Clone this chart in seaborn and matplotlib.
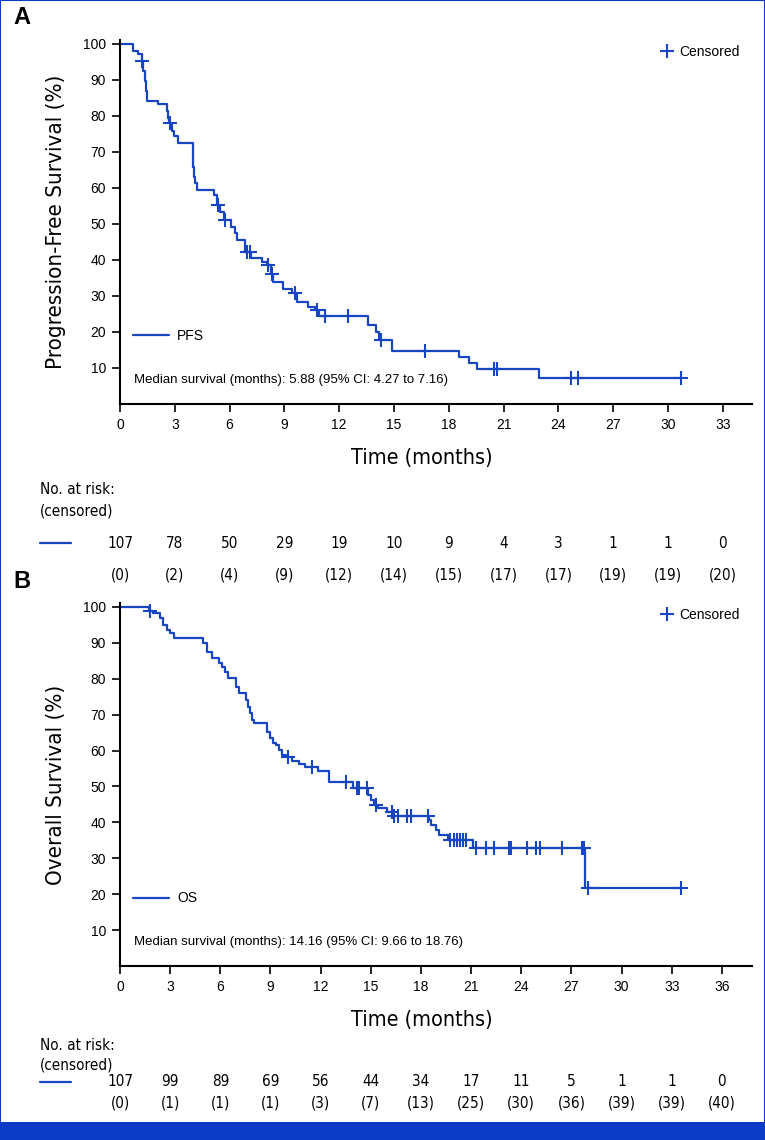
import numpy as np
import pandas as pd
import matplotlib
matplotlib.use("Agg")
import matplotlib.pyplot as plt
import seaborn as sns
from matplotlib.lines import Line2D
from matplotlib.patches import Rectangle
from matplotlib.transforms import blended_transform_factory
from matplotlib import font_manager

# ---------------- data ----------------
pfs_times = [0, 0.73, 1.0, 1.2, 1.28, 1.35, 1.42, 1.5, 2.06, 2.55, 2.65, 2.7, 2.85, 2.95, 3.19,
             3.98, 4.02, 4.06, 4.1, 4.2, 5.15, 5.3, 5.5, 5.7, 6.07, 6.3, 6.4, 6.84, 7.15, 7.75,
             8.05, 8.25, 8.4, 8.94, 9.4, 9.7, 10.3, 10.67, 10.9, 13.6, 14.0, 14.2, 14.9,
             18.55, 19.1, 19.56, 22.93]
pfs_surv = [100, 98.1, 97.2, 95.3, 92.5, 89.7, 86.9, 84.1, 83.2, 81.3, 79.4, 78.0, 75.7, 74.3, 72.5,
            68.7, 65.9, 63.1, 61.3, 59.5, 58.1, 55.4, 53.3, 51.2, 49.3, 47.4, 45.6, 42.3, 40.5, 39.5,
            38.6, 36.1, 34.0, 31.9, 30.7, 28.4, 27.0, 26.1, 24.4, 21.9, 20.1, 17.8, 14.8,
            13.1, 11.5, 9.7, 7.1]
pfs_censor_times = [1.22, 2.72, 5.38, 5.75, 6.93, 7.12, 8.12, 8.30, 9.6, 10.8, 11.2, 12.5,
                    14.3, 16.7, 20.5, 20.65, 24.68, 25.05, 30.74]
pfs_ticks = [0, 3, 6, 9, 12, 15, 18, 21, 24, 27, 30, 33]
pfs_at_risk = [107, 78, 50, 29, 19, 10, 9, 4, 3, 1, 1, 0]
pfs_censored = [0, 2, 4, 9, 12, 14, 15, 17, 17, 19, 19, 20]

os_times = [0, 1.75, 2.0, 2.39, 2.59, 2.83, 2.99, 3.25, 4.98, 5.18, 5.48, 5.92, 6.1, 6.28, 6.44,
            6.91, 7.13, 7.51, 7.65, 7.8, 7.91, 8.0, 8.77, 9.0, 9.15, 9.32, 9.5, 9.7, 9.9,
            10.26, 10.72, 11.06, 11.86, 12.51, 13.95, 14.85, 15.04, 15.2, 15.44, 15.94, 16.3,
            18.5, 18.6, 18.9, 19.1, 19.6, 21.12, 27.83]
os_surv = [100, 99.0, 98.2, 96.8, 95.0, 93.6, 92.7, 91.3, 89.9, 87.5, 85.7, 84.3, 83.4, 82.0, 80.2,
           77.8, 76.1, 74.1, 72.2, 70.4, 68.5, 67.6, 65.3, 63.4, 62.0, 61.6, 60.2, 58.8, 58.1,
           57.2, 56.2, 55.3, 54.4, 51.3, 49.5, 47.6, 46.2, 44.8, 43.9, 42.9, 41.9,
           40.7, 39.3, 37.9, 36.5, 35.1, 32.8, 21.8]
os_censor_times = [1.79, 10.02, 11.46, 13.49, 14.19, 14.3, 14.78, 15.3, 16.24, 16.38, 16.64,
                   17.14, 17.38, 18.43, 19.73, 19.96, 20.16, 20.32, 20.52, 20.72, 21.28, 21.88,
                   22.37, 23.25, 23.41, 24.37, 24.87, 25.1, 26.46, 27.66, 27.75, 28.0, 33.53]
os_ticks = [0, 3, 6, 9, 12, 15, 18, 21, 24, 27, 30, 33, 36]
os_at_risk = [107, 99, 89, 69, 56, 44, 34, 17, 11, 5, 1, 1, 0]
os_censored = [0, 1, 1, 1, 3, 7, 13, 25, 30, 36, 39, 39, 40]

y_ticks = [10, 20, 30, 40, 50, 60, 70, 80, 90, 100]

# ---------------- style ----------------
COLOR = "#1846c2"
FRAME = "#0b3bc5"
sns.set_theme(style="ticks")
plt.rcParams["font.family"] = ["Liberation Sans", "DejaVu Sans"]
plt.rcParams["text.color"] = "black"
plt.rcParams["axes.labelcolor"] = "black"
plt.rcParams["xtick.color"] = "black"
plt.rcParams["ytick.color"] = "black"

# condensed face for the axis titles and risk table, if one is installed
_names = {f.name for f in font_manager.fontManager.ttflist}
_cond = [f for f in font_manager.fontManager.ttflist
         if f.name == "DejaVu Sans" and "ondensed" in str(f.stretch).lower() + f.fname.lower()]
if "Liberation Sans Narrow" in _names:
    NARROW = dict(family=["Liberation Sans Narrow", "DejaVu Sans"])
elif _cond:
    NARROW = dict(family=["DejaVu Sans"], fontstretch="condensed")
else:
    NARROW = dict(family=["Liberation Sans", "DejaVu Sans"])

W, H = 765, 1140
fig = plt.figure(figsize=(W / 100, H / 100), dpi=100)


def step_value(times, surv, t):
    idx = np.searchsorted(np.asarray(times), np.asarray(t), side="right") - 1
    return np.asarray(surv)[idx]


def fx(px):
    return px / W


def fy(py):
    return 1 - py / H


def panel(top, bottom, xmax, times, surv, cens, ticks, ylabel, series, median,
          at_risk, censored, rows_y, letter, letter_y):
    left, right = 120, 752
    ax = fig.add_axes([fx(left), fy(bottom), (right - left) / W, (bottom - top) / H])
    end_t = cens[-1] if cens[-1] > times[-1] else times[-1]
    df = pd.DataFrame({"time": list(times) + [end_t], "surv": list(surv) + [surv[-1]]})
    sns.lineplot(data=df, x="time", y="surv", drawstyle="steps-post", color=COLOR,
                 linewidth=1.6, estimator=None, sort=False, ax=ax)
    cdf = pd.DataFrame({"time": cens, "surv": step_value(times, surv, cens)})
    sns.scatterplot(data=cdf, x="time", y="surv", marker="+", s=90, color=COLOR,
                    linewidth=1.5, ax=ax, zorder=3)
    ax.set_xlim(0, xmax)
    ax.set_ylim(0, 101.1)
    ax.set_xticks(ticks)
    ax.set_yticks(y_ticks)
    sns.despine(ax=ax)
    for sp in ["left", "bottom"]:
        ax.spines[sp].set_linewidth(1.5)
        ax.spines[sp].set_color("black")
    ax.tick_params(axis="both", direction="out", length=6, width=1.2, color="black",
                   labelsize=10, labelcolor="black", pad=4)
    ax.set_xlabel("Time (months)", fontsize=15.5, color="black", **NARROW)
    ax.set_ylabel(ylabel, fontsize=16, color="black", **NARROW)
    ax.xaxis.set_label_coords(0.478, -0.12)
    ax.yaxis.set_label_coords(-0.085, 0.5)

    h1 = [Line2D([], [], color=COLOR, lw=1.6)]
    leg1 = ax.legend(h1, [series], loc="upper left", bbox_to_anchor=(0.0, 0.24),
                     frameon=False, fontsize=10, handlelength=2.6, handletextpad=0.6,
                     labelcolor="black")
    ax.add_artist(leg1)
    h2 = [Line2D([], [], color=COLOR, lw=0, marker="+", markersize=10, markeredgewidth=1.5)]
    ax.legend(h2, ["Censored"], loc="upper right", bbox_to_anchor=(1.0, 1.02),
              frameon=False, fontsize=10, handlelength=1.0, handletextpad=0.4,
              labelcolor="black")
    ax.text(0.022, 0.065, median, transform=ax.transAxes, fontsize=9.5, color="black",
            va="center", ha="left")

    tr = blended_transform_factory(ax.transData, fig.transFigure)
    y_nr, y_cen, y_num, y_par = rows_y
    fig.text(fx(40), fy(y_nr), "No. at risk:", fontsize=11, va="center", color="black", **NARROW)
    fig.text(fx(40), fy(y_cen), "(censored)", fontsize=11, va="center", color="black", **NARROW)
    fig.add_artist(Line2D([fx(40), fx(71)], [fy(y_num), fy(y_num)], color=COLOR, lw=1.6))
    for t, n, c in zip(ticks, at_risk, censored):
        ax.text(t, fy(y_num), str(n), transform=tr, ha="center", va="center",
                fontsize=11, clip_on=False, color="black", **NARROW)
        ax.text(t, fy(y_par), f"({c})", transform=tr, ha="center", va="center",
                fontsize=11, clip_on=False, color="black", **NARROW)
    fig.text(fx(13), fy(letter_y), letter, fontsize=17, fontweight="bold", va="center",
             color="black")
    return ax


panel(40, 404, 34.6, pfs_times, pfs_surv, pfs_censor_times, pfs_ticks,
      "Progression-Free Survival (%)", "PFS",
      "Median survival (months): 5.88 (95% CI: 4.27 to 7.16)",
      pfs_at_risk, pfs_censored, (489, 511, 543, 575), "A", 18)

panel(603, 966, 37.8, os_times, os_surv, os_censor_times, os_ticks,
      "Overall Survival (%)", "OS",
      "Median survival (months): 14.16 (95% CI: 9.66 to 18.76)",
      os_at_risk, os_censored, (1046, 1065, 1082, 1103), "B", 582)

# frame and bottom band
fig.add_artist(Rectangle((0, 0), 1, 1, transform=fig.transFigure, fill=False,
                         edgecolor=FRAME, linewidth=1.5))
fig.add_artist(Rectangle((0, 0), 1, fy(1122), transform=fig.transFigure,
                         facecolor=FRAME, edgecolor="none"))

fig.savefig("out.png", dpi=100)
